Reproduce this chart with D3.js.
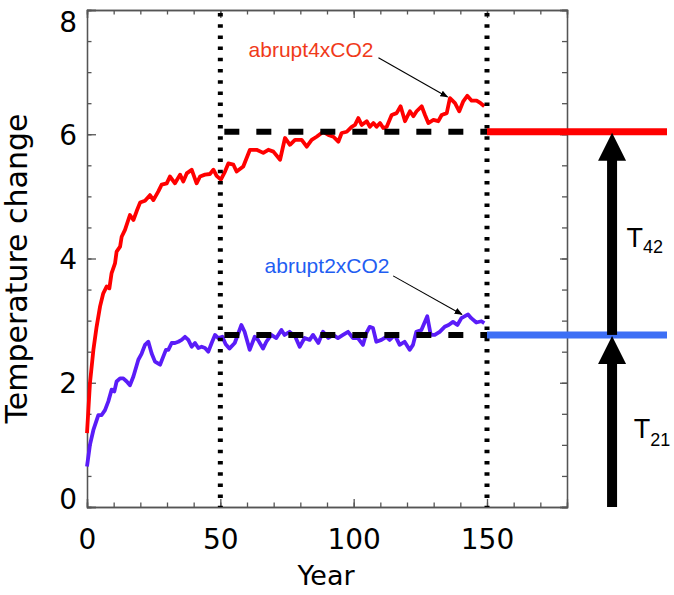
<!DOCTYPE html>
<html>
<head>
<meta charset="utf-8">
<script src="https://cdn.jsdelivr.net/npm/d3@7"></script>
<style>
html, body { margin: 0; padding: 0; background: #fff; }
svg { display: block; }
</style>
</head>
<body>
<svg id="chart" width="674" height="595"></svg>
<script>
// ---- data ----
const redYears = [0,1.1,2.4,3.6,4.9,6.1,7.4,8.4,9.2,10.5,11.1,12.4,13,14.25,16.1,17.4,18.6,19.9,21.75,23.6,24.9,26.75,28,29.9,31.1,33,34.9,36.1,37.4,39.25,41.1,42.4,44.25,46.1,47.4,48.6,50.2,51.75,53,54.9,56.1,58.6,61.1,63.6,66.1,68,69.9,72.4,74.25,76.1,78,80.5,82.4,84.25,86.1,88.6,90.5,92.4,94.25,95.5,97.4,99.25,100.5,101.75,103,104.9,106.1,107.4,108.6,109.9,111.1,112.4,114.25,116.1,117.6,119.25,121.1,122.4,123.6,125.5,126.75,128,129.9,131.75,133,134.9,136.1,138,139.6,141.1,142.6,144.25,146.1,147.6,149];
const redValues = [1.19,1.99,2.53,2.90,3.23,3.44,3.55,3.52,3.76,3.92,4.11,4.19,4.35,4.46,4.70,4.62,4.76,4.90,4.93,5.02,4.94,5.08,5.19,5.21,5.32,5.21,5.35,5.24,5.37,5.43,5.21,5.32,5.35,5.36,5.43,5.33,5.27,5.40,5.53,5.51,5.40,5.48,5.75,5.75,5.70,5.75,5.72,5.59,5.94,5.83,5.91,5.91,5.80,5.91,5.96,6.04,5.99,5.96,5.88,6.02,6.04,6.12,6.15,6.26,6.15,6.21,6.12,6.18,6.12,6.18,6.10,6.12,6.31,6.34,6.45,6.21,6.37,6.29,6.37,6.45,6.31,6.18,6.23,6.21,6.31,6.34,6.58,6.50,6.37,6.53,6.62,6.54,6.54,6.50,6.45];
const blueYears = [0,1.1,2.4,4.25,5.5,6.75,8,9.25,10.25,11.1,12.4,13.6,14.9,16.1,17.4,19.25,20.5,21.75,23,24.25,25.5,27.4,28.6,29.6,30.5,31.75,33,34.25,35.5,36.75,38,39.25,40.5,41.75,43,44.25,45.5,46.75,48,49.25,50.75,52,53.4,55.4,57.9,59.1,61,62.9,64.1,66,67.25,69.1,71,72.9,74.1,76,78.1,79.75,81.6,83.5,84.75,86.75,88.5,90.5,92.25,94.1,96,97.9,99.75,101.6,103.5,104.75,106,107.25,108.5,110.4,112.25,113.5,115.4,117.25,119.1,121,122.25,123.5,125.4,127.6,128.9,130.4,132.25,134.1,135.6,137.25,138.9,140.4,142.9,144.1,146,147.9,149];
const blueValues = [0.65,1.00,1.24,1.48,1.48,1.56,1.70,1.89,1.86,2.02,2.07,2.07,2.02,1.96,2.10,2.37,2.47,2.61,2.66,2.47,2.34,2.29,2.42,2.53,2.53,2.64,2.64,2.66,2.69,2.74,2.69,2.58,2.64,2.56,2.58,2.56,2.50,2.64,2.77,2.72,2.74,2.62,2.55,2.64,2.93,2.82,2.53,2.74,2.69,2.55,2.66,2.77,2.72,2.85,2.77,2.82,2.74,2.58,2.72,2.69,2.77,2.64,2.82,2.72,2.77,2.72,2.77,2.82,2.72,2.72,2.61,2.80,2.90,2.88,2.66,2.69,2.74,2.69,2.77,2.61,2.66,2.53,2.61,2.82,2.85,3.07,2.77,2.77,2.82,2.90,2.93,2.98,2.93,3.04,3.10,3.04,2.97,2.99,2.96];
const seriesNames = ["abrupt4xCO2", "abrupt2xCO2"];
const equilibrium = [6.04, 2.77];        // 4xCO2, 2xCO2 levels
const windowYears = [50, 150];           // dotted verticals / dashed segments
const xMajorTicks = [0, 50, 100, 150];
const yMajorTicks = [0, 2, 4, 6, 8];
const xLabel = "Year";
const yLabel = "Temperature change";
const deltaLabels = [["T", "42"], ["T", "21"]];

// ---- layout ----
const svg = d3.select("#chart");
const x = d3.scaleLinear().domain([0, 180]).range([87, 567]);
const y = d3.scaleLinear().domain([0, 8]).range([507, 10]);
const tickFont = "'DejaVu Sans', sans-serif";
const annFont = "'Liberation Sans', Arial, sans-serif";
const axisColor = "#555";

const xMinor = d3.range(0, 181, 10);
const yMinor = d3.range(0, 8.001, 0.5);

function styleAxis(g) {
  g.selectAll("path.domain").attr("stroke", axisColor).attr("stroke-width", 1.3);
  g.selectAll(".tick line").attr("stroke", axisColor).attr("stroke-width", 1.3);
}

// minor ticks
svg.append("g").attr("transform", `translate(0,${y(0)})`)
  .call(d3.axisBottom(x).tickValues(xMinor).tickSize(-4.5).tickFormat(""))
  .call(styleAxis);
svg.append("g").attr("transform", `translate(0,${y(8)})`)
  .call(d3.axisTop(x).tickValues(xMinor).tickSize(-4.5).tickFormat(""))
  .call(styleAxis);
svg.append("g").attr("transform", `translate(${x(0)},0)`)
  .call(d3.axisLeft(y).tickValues(yMinor).tickSize(-4.5).tickFormat(""))
  .call(styleAxis);
svg.append("g").attr("transform", `translate(${x(180)},0)`)
  .call(d3.axisRight(y).tickValues(yMinor).tickSize(-5).tickFormat(""))
  .call(styleAxis);

// major ticks with labels
const gx = svg.append("g").attr("transform", `translate(0,${y(0)})`)
  .call(d3.axisBottom(x).tickValues(xMajorTicks).tickSize(-8).tickPadding(22).tickFormat(d3.format("d")))
  .call(styleAxis);
gx.selectAll("text").attr("font-family", tickFont).attr("font-size", 28).attr("fill", "#000");
svg.append("g").attr("transform", `translate(0,${y(8)})`)
  .call(d3.axisTop(x).tickValues(xMajorTicks).tickSize(-8).tickFormat(""))
  .call(styleAxis);
const gy = svg.append("g").attr("transform", `translate(${x(0)},0)`)
  .call(d3.axisLeft(y).tickValues(yMajorTicks).tickSize(-9).tickPadding(10).tickFormat(d3.format("d")))
  .call(styleAxis);
gy.selectAll("text").attr("font-family", tickFont).attr("font-size", 28).attr("fill", "#000")
  .attr("dy", d => d === 8 ? "0.78em" : (d === 0 ? "0.05em" : "0.36em"));
svg.append("g").attr("transform", `translate(${x(180)},0)`)
  .call(d3.axisRight(y).tickValues(yMajorTicks).tickSize(-7).tickFormat(""))
  .call(styleAxis);

// axis titles
svg.append("text").attr("x", (x(0) + x(180)) / 2 - 1).attr("y", 585)
  .attr("text-anchor", "middle").attr("font-family", tickFont).attr("font-size", 27)
  .text(xLabel);
svg.append("text").attr("transform", `translate(27,${(y(8) + y(0)) / 2 + 10}) rotate(-90)`)
  .attr("text-anchor", "middle").attr("font-family", tickFont).attr("font-size", 30)
  .text(yLabel);

// curves
const line = d3.line().x(d => x(d[0])).y(d => y(d[1]));
const redData = d3.zip(redYears, redValues);
const blueData = d3.zip(blueYears, blueValues);
svg.append("path").datum(redData).attr("d", line)
  .attr("fill", "none").attr("stroke", "#ff0000").attr("stroke-width", 3.8).attr("stroke-linejoin", "round");
svg.append("path").datum(blueData).attr("d", line)
  .attr("fill", "none").attr("stroke", "#5a1cf8").attr("stroke-width", 3.8).attr("stroke-linejoin", "round");

// dashed equilibrium segments
svg.selectAll("line.eq").data(equilibrium).join("line").attr("class", "eq")
  .attr("x1", x(windowYears[0]) + 4).attr("x2", x(windowYears[1]))
  .attr("y1", d => y(d)).attr("y2", d => y(d))
  .attr("stroke", "#000").attr("stroke-width", 6).attr("stroke-dasharray", "15 17");

// dotted vertical lines
svg.selectAll("line.win").data(windowYears).join("line").attr("class", "win")
  .attr("x1", d => x(d)).attr("x2", d => x(d))
  .attr("y1", y(8) + 3).attr("y2", y(0))
  .attr("stroke", "#000").attr("stroke-width", 5).attr("stroke-dasharray", "3.5 7.7");

// right-hand equilibrium bars
const barEndYear = 217.5;
const arrowYear = 196.9;
const eqColors = ["#ff0000", "#3d6ff5"];
svg.selectAll("line.bar").data(equilibrium).join("line").attr("class", "bar")
  .attr("x1", x(windowYears[1])).attr("x2", x(barEndYear))
  .attr("y1", d => y(d)).attr("y2", d => y(d))
  .attr("stroke", (d, i) => eqColors[i]).attr("stroke-width", 7);

// black arrows (0 -> 2x level, 2x level -> 4x level)
const arrowSpans = [[0, equilibrium[1]], [equilibrium[1], equilibrium[0]]];
const ax = x(arrowYear);
arrowSpans.forEach(([from, to]) => {
  const y0 = y(from), y1 = y(to);
  svg.append("rect").attr("x", ax - 5).attr("width", 10)
    .attr("y", y1 + 20).attr("height", y0 - y1 - 20).attr("fill", "#000");
  svg.append("path")
    .attr("d", `M${ax},${y1 + 1} L${ax - 14},${y1 + 29} L${ax + 14},${y1 + 29} Z`)
    .attr("fill", "#000");
});

// delta labels
const deltaPos = [[202.3, 4.18, 6], [205.0, 1.11, 8]];
deltaLabels.forEach(([main, sub], i) => {
  const [yr, v, off] = deltaPos[i];
  const t = svg.append("text").attr("x", x(yr)).attr("y", y(v))
    .attr("font-family", annFont).attr("font-size", 27).attr("fill", "#000");
  t.append("tspan").text(main);
  t.append("tspan").attr("dx", 0).attr("dy", off).attr("font-size", 18).text(sub);
});

// series annotations with pointer arrows
svg.append("defs").append("marker").attr("id", "ah")
  .attr("viewBox", "0 0 10 10").attr("refX", 9).attr("refY", 5)
  .attr("markerWidth", 8).attr("markerHeight", 8).attr("orient", "auto")
  .attr("markerUnits", "userSpaceOnUse")
  .append("path").attr("d", "M0,1 L10,5 L0,9 Z").attr("fill", "#000");

const annColors = ["#f03a1a", "#1f5ef2"];
const annText = [[60.6, 7.24], [66.6, 3.76]];
const annArrow = [[[109.3, 7.23], [135.2, 6.6]], [[114.8, 3.72], [140.6, 3.1]]];
seriesNames.forEach((name, i) => {
  svg.append("text").attr("x", x(annText[i][0])).attr("y", y(annText[i][1]))
    .attr("font-family", annFont).attr("font-size", 21).attr("fill", annColors[i])
    .text(name);
  const [[a0, b0], [a1, b1]] = annArrow[i];
  svg.append("line").attr("x1", x(a0)).attr("y1", y(b0)).attr("x2", x(a1)).attr("y2", y(b1))
    .attr("stroke", "#000").attr("stroke-width", 1.1).attr("marker-end", "url(#ah)");
});
</script>
</body>
</html>
